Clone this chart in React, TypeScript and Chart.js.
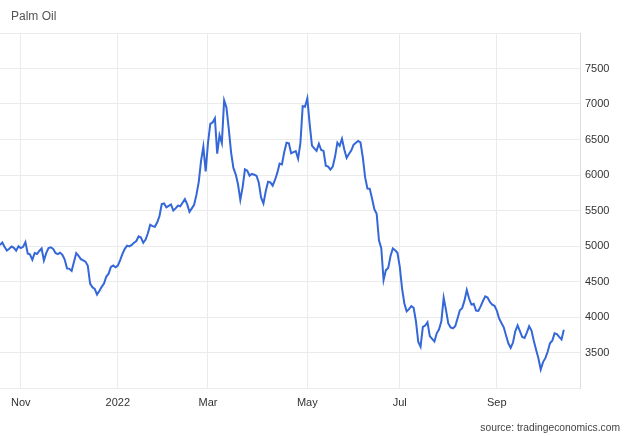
import { useEffect, useRef } from "react";
import { Chart, registerables } from "chart.js";

Chart.register(...registerables);

// Palm oil price (MYR/t), one value per trading day, grouped by period
const oct2021 = [5014, 5050, 4985, 4935, 4962, 4992, 4975, 4935, 4995];
const novDec2021 = [
  4970, 4988, 5055, 4895, 4880, 4805, 4900, 4887, 4930, 4965, 4797, 4900, 4970, 4982,
  4960, 4903, 4885, 4905, 4875, 4810, 4685, 4678, 4650, 4775, 4900, 4860, 4815, 4798,
  4780, 4720, 4470, 4418, 4396, 4315, 4365, 4425, 4470, 4570, 4610, 4705, 4725, 4700,
];
const janFeb2022 = [
  4725, 4800, 4890, 4960, 5005, 4995, 5015, 5045, 5070, 5135, 5120, 5045, 5090, 5180,
  5300, 5280, 5270, 5330, 5420, 5590, 5600, 5545, 5565, 5585, 5500, 5530, 5570, 5560,
  5610, 5660, 5590, 5480, 5530, 5580, 5720, 5900, 6200, 6400, 6050,
];
const marApr2022 = [
  6450, 6720, 6740, 6800, 6300, 6560, 6450, 7050, 6950, 6650, 6320, 6100, 6010, 5870,
  5650, 5830, 6080, 6060, 5990, 6015, 6003, 5990, 5890, 5680, 5600, 5770, 5906, 5895,
  5850, 5930, 6030, 6160, 6150, 6320, 6455, 6447, 6305, 6322, 6337, 6230, 6450, 6970,
  6960,
];
const mayJun2022 = [
  7080, 6720, 6415, 6375, 6340, 6440, 6352, 6340, 6130, 6118, 6075, 6120, 6260, 6455,
  6410, 6510, 6360, 6240, 6295, 6345, 6425, 6455, 6480, 6460, 6250, 5970, 5810, 5808,
  5670, 5520, 5455, 5080, 4970, 4520, 4660, 4690, 4860, 4965, 4940, 4905,
];
const julAug2022 = [
  4710, 4400, 4190, 4080, 4110, 4152, 4130, 3940, 3650, 3582, 3860, 3880, 3925, 3730,
  3693, 3655, 3770, 3826, 3940, 4270, 4100, 3910, 3854, 3840, 3870, 3980, 4095, 4125,
  4230, 4380, 4260, 4175, 4186, 4090, 4085, 4150, 4225, 4290, 4275, 4212, 4175, 4158,
];
const sepOct2022 = [
  4090, 3980, 3915, 3855, 3740, 3630, 3565, 3640, 3800, 3880, 3800, 3718, 3705, 3780,
  3870, 3810, 3665, 3540, 3420, 3260, 3365, 3420, 3510, 3630, 3665, 3770, 3760, 3720,
  3685, 3820,
];

const periods = [oct2021, novDec2021, janFeb2022, marApr2022, mayJun2022, julAug2022, sepOct2022];
// label shown at the first trading day of each period after the first
const tickLabels = ["Nov", "2022", "Mar", "May", "Jul", "Sep"];
const yTicksShown = [3500, 4000, 4500, 5000, 5500, 6000, 6500, 7000, 7500];

const prices: number[] = periods.flat();
const tickPositions: number[] = [];
{
  let acc = periods[0].length;
  for (let i = 1; i < periods.length; i++) {
    tickPositions.push(acc);
    acc += periods[i].length;
  }
}

const FONT = "'Liberation Sans', Arial, sans-serif";

export default function App() {
  const canvasRef = useRef<HTMLCanvasElement | null>(null);

  useEffect(() => {
    if (!canvasRef.current) return;
    const chart = new Chart(canvasRef.current, {
      type: "line",
      data: {
        datasets: [
          {
            data: prices.map((y, x) => ({ x, y })),
            borderColor: "#3467d8",
            borderWidth: 2,
            pointRadius: 0,
            tension: 0,
            fill: false,
          },
        ],
      },
      options: {
        responsive: false,
        animation: false,
        layout: { padding: { top: 33, left: 0, right: 0, bottom: 0 } },
        plugins: { legend: { display: false }, tooltip: { enabled: false } },
        scales: {
          x: {
            type: "linear",
            min: 0,
            max: 251,
            afterBuildTicks: (scale: any) => {
              scale.ticks = tickPositions.map((value) => ({ value }));
            },
            afterFit: (scale: any) => {
              scale.height = 48;
            },
            ticks: {
              autoSkip: false,
              maxRotation: 0,
              padding: 8,
              color: "#333",
              font: { family: FONT, size: 11 },
              callback: (value: any) => {
                const i = tickPositions.indexOf(Number(value));
                return i >= 0 ? tickLabels[i] : "";
              },
            },
            grid: { color: "#ebebeb", drawTicks: false },
            border: { display: false },
          },
          y: {
            position: "right",
            min: 3000,
            max: 8000,
            afterFit: (scale: any) => {
              scale.width = 50;
            },
            ticks: {
              stepSize: 500,
              padding: 5,
              color: "#333",
              font: { family: FONT, size: 11 },
              callback: (value: any) =>
                yTicksShown.includes(Number(value)) ? String(value) : "",
            },
            grid: { color: "#ebebeb", drawTicks: false },
            border: { display: true, color: "#dddddd" },
          },
        },
      },
    } as any);
    return () => chart.destroy();
  }, []);

  return (
    <div
      style={{
        position: "fixed",
        left: 0,
        top: 0,
        width: 630,
        height: 436,
        background: "#fff",
        fontFamily: FONT,
      }}
    >
      <canvas ref={canvasRef} width={630} height={436} style={{ display: "block" }} />
      <div
        style={{
          position: "absolute",
          left: 11,
          top: 9,
          fontSize: 12,
          lineHeight: "14px",
          color: "#555",
        }}
      >
        Palm Oil
      </div>
      <div
        style={{
          position: "absolute",
          right: 10,
          top: 422,
          fontSize: 10.3,
          lineHeight: "12px",
          color: "#444",
        }}
      >
        source: tradingeconomics.com
      </div>
    </div>
  );
}
